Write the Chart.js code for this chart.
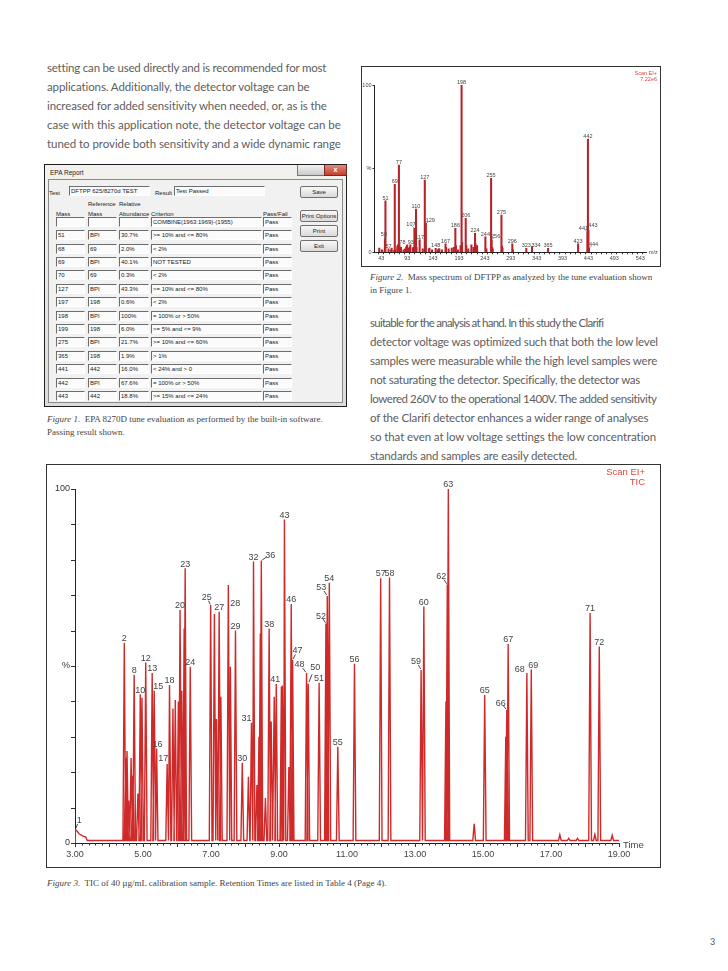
<!DOCTYPE html>
<html lang="en">
<head>
<meta charset="UTF-8">
<title>Clarifi detector - DFTPP tune and TIC</title>
<script src="https://cdn.jsdelivr.net/npm/chart.js"></script>
<style>
  body { margin:0; width:728px; height:971px; position:relative; overflow:hidden; background:#fff; font-family:Lato, "Liberation Sans", sans-serif; }
  .para { position:absolute; font-size:11.5px; line-height:19px; color:#5d5d5d; white-space:nowrap; }
  .ln { display:inline-block; }
  .cap { position:absolute; font-family:"Liberation Serif", serif; font-size:9px; line-height:13px; color:#444; white-space:nowrap; }
  .box { position:absolute; border:1px solid #333; background:#fff; }
  canvas { position:absolute; }
  .red { position:absolute; color:#e0463c; font-family:"Liberation Sans", Arial, sans-serif; text-align:right; white-space:nowrap; }
  .pageno { position:absolute; left:710px; top:936px; font-size:9px; color:#555; }

  /* EPA Report window */
  .win { position:absolute; left:44px; top:164px; width:301px; height:241px; border:1px solid #1e1e1e;
         background:linear-gradient(#f4f2ee, #dedbd4); font-family:"Liberation Sans", Arial, sans-serif; color:#222; }
  .win div { position:absolute; white-space:nowrap; }
  .wtitle { left:5px; top:4px; font-size:6.5px; line-height:8px; }
  .wbtns { left:252px; top:0; width:26px; height:10px; background:linear-gradient(#f3f3f3,#c9c9c9); border:1px solid #777; border-top:0; }
  .wclose { left:279px; top:0; width:21px; height:10px; background:linear-gradient(#e48a7c,#c2402c); border:1px solid #7a2a20; border-top:0;
            color:#fff; font-size:7px; line-height:10px; text-align:center; font-weight:bold; }
  .client { left:3px; top:14px; width:293px; height:222px; background:#f1f1f1; border:1px solid #8a8a8a; }
  .lbl { font-size:6px; line-height:8px; }
  .fld { height:8px; border-top:1px solid #6d6d6d; border-left:1px solid #6d6d6d; border-bottom:1px solid #fff; border-right:1px solid #fff;
         background:#fbfbfb; font-size:6px; line-height:8px; padding-left:1px; overflow:hidden; }
  .btn { width:36px; height:10px; border:1px solid #707070; border-radius:2px; background:linear-gradient(#f8f8f8,#dadada);
         font-size:6px; line-height:10px; text-align:center; }
</style>
</head>
<body>

<div class="para" style="left:47px; top:58px;">
<span class="ln" data-w="279">setting can be used directly and is recommended for most</span><br>
<span class="ln" data-w="263">applications. Additionally, the detector voltage can be</span><br>
<span class="ln" data-w="280">increased for added sensitivity when needed, or, as is the</span><br>
<span class="ln" data-w="294">case with this application note, the detector voltage can be</span><br>
<span class="ln" data-w="294">tuned to provide both sensitivity and a wide dynamic range</span>
</div>

<div class="win" id="epaWin">
  <div class="wtitle">EPA Report</div>
  <div class="wbtns"></div>
  <div class="wclose">x</div>
  <div class="client"></div>
  <div class="lbl" style="left:4px; top:24px;">Test</div>
  <div class="fld" style="left:24px; top:21px; width:78px;">DFTPP 625/8270d TEST</div>
  <div class="lbl" style="left:110px; top:24px;">Result</div>
  <div class="fld" style="left:129px; top:21px; width:88px;">Test Passed</div>
  <div class="btn" style="left:255px; top:21px;">Save</div>
  <div class="btn" style="left:255px; top:45px;">Print Options</div>
  <div class="btn" style="left:255px; top:60px;">Print</div>
  <div class="btn" style="left:255px; top:75px;">Exit</div>
  <div class="lbl" style="left:43px; top:35px;">Reference</div>
  <div class="lbl" style="left:74px; top:35px;">Relative</div>
  <div class="lbl" style="left:11px; top:45px;">Mass</div>
  <div class="lbl" style="left:43px; top:45px;">Mass</div>
  <div class="lbl" style="left:74px; top:45px;">Abundance</div>
  <div class="lbl" style="left:106px; top:45px;">Criterion</div>
  <div class="lbl" style="left:218px; top:45px;">Pass/Fail</div>
</div>

<div class="cap" style="left:47px; top:413px;">
<i>Figure 1.</i>&nbsp; EPA 8270D tune evaluation as performed by the built-in software.<br>
Passing result shown.
</div>

<div class="box" style="left:361px; top:66px; width:298px; height:199px;"></div>
<canvas id="specChart" width="298" height="198" style="left:362px; top:67px;"></canvas>
<div class="red" style="right:71px; top:70px; font-size:5.5px; line-height:6px;">Scan EI+<br>7.22e6</div>

<div class="cap" style="left:370px; top:271px;">
<i>Figure 2.</i>&nbsp; Mass spectrum of DFTPP as analyzed by the tune evaluation shown<br>
in Figure 1.
</div>

<div class="para" style="left:370px; top:313px;">
<span class="ln" data-w="233">suitable for the analysis at hand. In this study the Clarifi</span><br>
<span class="ln" data-w="288">detector voltage was optimized such that both the low level</span><br>
<span class="ln" data-w="287">samples were measurable while the high level samples were</span><br>
<span class="ln" data-w="270">not saturating the detector. Specifically, the detector was</span><br>
<span class="ln" data-w="287">lowered 260V to the operational 1400V. The added sensitivity</span><br>
<span class="ln" data-w="278">of the Clarifi detector enhances a wider range of analyses</span><br>
<span class="ln" data-w="286">so that even at low voltage settings the low concentration</span><br>
<span class="ln" data-w="207">standards and samples are easily detected.</span>
</div>

<div class="box" style="left:46px; top:464px; width:613px; height:402px;"></div>
<canvas id="ticChart" width="613" height="401" style="left:47px; top:465px;"></canvas>
<div class="red" style="right:83px; top:467px; font-size:9.5px; line-height:10px;">Scan EI+<br>TIC</div>

<div class="cap" style="left:47px; top:877px;">
<i>Figure 3.</i>&nbsp; TIC of 40 &micro;g/mL calibration sample. Retention Times are listed in Table 4 (Page 4).
</div>

<div class="pageno">3</div>

<script>
// ---- Figure 1: tune report rows ----
const tuneMass  = ['', '51', '68', '69', '70', '127', '197', '198', '199', '275', '365', '441', '442', '443'];
const tuneRef   = ['', 'BPI', '69', 'BPI', '69', 'BPI', '198', 'BPI', '198', 'BPI', '198', '442', 'BPI', '442'];
const tuneAbund = ['', '30.7%', '2.0%', '40.1%', '0.3%', '43.3%', '0.6%', '100%', '6.0%', '21.7%', '1.9%', '16.0%', '67.6%', '18.8%'];
const tuneCrit  = ['COMBINE(1963:1969)-(1955)', '>= 10% and <= 80%', '< 2%', 'NOT TESTED', '< 2%', '>= 10% and <= 80%', '< 2%',
                   '= 100% or > 50%', '>= 5% and <= 9%', '>= 10% and <= 60%', '> 1%', '< 24% and > 0', '= 100% or > 50%', '>= 15% and <= 24%'];
const tunePass  = Array(14).fill('Pass');

// ---- Figure 2: DFTPP mass spectrum ----
const specMz = [39, 44, 45, 50, 51, 57, 62, 63, 68, 69, 70, 74, 75, 76, 77, 78, 79, 80, 81, 86, 89, 91, 92, 93, 96, 98, 99,
                104, 105, 107, 108, 110, 111, 117, 123, 127, 128, 129, 135, 136, 141, 148, 152, 154, 155, 160, 167, 168,
                173, 179, 183, 186, 187, 191, 196, 198, 199, 206, 207, 211, 217, 221, 224, 225, 227, 228, 244, 246,
                255, 256, 257, 258, 275, 276, 277, 296, 297, 323, 334, 365, 423, 441, 442, 443, 444];
const specAbund = [2.5, 1.5, 1.2, 7.8, 30.7, 2, 1.5, 2.5, 1.2, 40.6, 1.5, 3.5, 4.5, 3.5, 52.2, 4.5, 3, 2.5, 3, 1.5, 2, 3, 3.5, 4.5, 2.5, 3, 4.5,
                   2.5, 3, 14.3, 5, 25.9, 3, 7.4, 2, 43.2, 4, 17.3, 2, 2.5, 1.5, 2.4, 1.5, 2, 2, 1.5, 5, 3,
                   2, 2.5, 3, 14.3, 4, 1.5, 4, 100, 6, 20.3, 4, 2, 4.5, 3, 11.4, 5, 3.5, 4, 9.3, 2,
                   44.2, 7.4, 3, 2, 22.3, 3.5, 2.5, 5, 1.5, 2.4, 3.4, 2.4, 5, 12.3, 67.7, 13.3, 2.4];
const specLabels = ['', '', '', '50', '51', '57', '', '', '', '69', '', '', '', '', '77', '78', '', '', '', '', '', '', '', '93', '', '', '',
                    '', '', '107', '', '110', '', '117', '', '127', '', '129', '', '', '', '148', '', '', '', '', '167', '',
                    '', '', '', '186', '', '', '', '198', '', '206', '', '', '', '', '224', '', '', '', '244', '',
                    '255', '256', '', '', '275', '', '', '296', '', '323', '334', '365', '423', '441', '442', '443', '444'];
const specTickLabels = [43, 93, 143, 193, 243, 293, 343, 393, 443, 493, 543];

// ---- Figure 3: TIC chromatogram ----
const startTimes  = [3.00, 3.01, 3.04, 3.12, 3.22, 3.32, 3.36];
const startLevels = [0, 3.8, 3.6, 2.6, 2.0, 1.7, 0.7];
const baseLevel = 0.7;
const peakTimes = [
  4.45, 4.49, 4.53, 4.58, 4.65, 4.70, 4.74, 4.85, 4.92, 4.97,
  5.08, 5.27, 5.33, 5.40, 5.71, 5.78, 5.88, 5.95, 6.04, 6.09,
  6.14, 6.21, 6.24, 6.39, 6.99, 7.10, 7.16, 7.24, 7.29,
  7.51, 7.57, 7.72, 7.92, 8.10, 8.19, 8.25, 8.35, 8.41, 8.45,
  8.48, 8.60, 8.71, 8.77, 8.86, 8.92, 9.07, 9.10, 9.16, 9.29,
  9.36, 9.40, 9.81, 9.86, 10.18, 10.38, 10.42, 10.48, 10.73, 11.22,
  11.99, 12.25, 13.18, 13.26, 13.91, 13.95, 13.98, 14.74, 15.05, 15.67,
  15.70, 15.74, 16.29, 16.42, 17.26, 17.52, 17.78, 18.15, 18.29, 18.42,
  18.80
];
const peakHeights = [
  56.6, 24, 26, 12, 24, 19, 47.5, 14, 42, 41,
  51, 48, 43, 26.7, 22.3, 44.6, 38, 40.4, 40, 65.8,
  43, 60.6, 77.6, 49.8, 67.2, 64.7, 35, 65.3, 41.3,
  72.9, 49.8, 60, 22.7, 18.7, 34, 79.5, 16.4, 30, 59.2,
  79.8, 12.7, 60.6, 34.3, 41.3, 44.9, 44.2, 44.5, 91.4, 21.5,
  67.5, 51.7, 48, 45, 45.3, 62, 69.8, 73.5, 27.2, 50.6,
  74.8, 75, 48.9, 66.8, 40, 73, 100, 5.4, 41.8, 30,
  37.6, 56.2, 48, 49, 2.3, 1.3, 1.3, 65, 2.4, 55.5,
  2.2
];
const peakLabels = [
  '2', '', '', '', '', '', '8', '', '10', '',
  '12', '13', '15', '16', '17', '18', '', '', '', '20',
  '', '', '23', '24', '25', '', '', '27', '',
  '28', '', '29', '30', '', '31', '32', '', '', '',
  '36', '', '38', '', '', '41', '', '', '43', '',
  '46', '47', '48', '50', '51', '52', '53', '54', '55', '56',
  '57', '58', '59', '60', '', '62', '63', '', '65', '',
  '66', '67', '68', '69', '', '', '', '71', '', '72',
  ''
];
const timeTickLabels = ['3.00', '5.00', '7.00', '9.00', '11.00', '13.00', '15.00', '17.00', '19.00'];

// label placement tweaks (centre offset from apex in px, leader line flag)
const ticLabelShift = {
  '1': [4, -10, 1], '15': [4, -5], '16': [1, -5], '17': [-4, -6], '25': [-4, -8, 1], '28': [7, 18],
  '31': [-5, -5], '36': [9, -6, 1], '41': [-1, -5], '47': [5, -10, 1], '48': [-7, -9, 1], '50': [7, -17, 1],
  '52': [-5, -8, 1], '53': [-6, -9, 1], '59': [-5, -9, 1], '62': [-6, -9, 1], '66': [-6, -7, 1],
  '68': [-7, -4], '69': [2, -5]
};
const specLabelShift = {
  '50': [-1, -5, 1], '107': [-3.5, -4, 1], '129': [4.5, -3.5, 1], '256': [4, -4, 1], '441': [-4, -3.5, 1],
  '443': [4.5, -5], '444': [4.5, -4, 1], '78': [3, -3], '93': [3.5, -3], '334': [4, -2]
};

const FONT = '"Liberation Sans", Arial, sans-serif';
Chart.defaults.font.family = FONT;

// stretch each text line to the measured line length of the page
document.querySelectorAll('.ln').forEach(el => {
  const natural = el.getBoundingClientRect().width;
  el.style.letterSpacing = ((parseFloat(el.dataset.w) - natural) / el.textContent.length) + 'px';
});

// build the tune report rows
const win = document.getElementById('epaWin');
const cols = [[11, 26, tuneMass], [43, 26, tuneRef], [74, 27, tuneAbund], [106, 108, tuneCrit], [218, 26, tunePass]];
tuneCrit.forEach((_, i) => {
  const top = 51.7 + 13.4 * i;
  cols.forEach(([left, w, arr]) => {
    const d = document.createElement('div');
    d.className = 'fld';
    d.style.left = left + 'px';
    d.style.top = top + 'px';
    d.style.width = w + 'px';
    d.textContent = arr[i];
    win.appendChild(d);
  });
});

function drawLabel(ctx, text, px, py, shift, size) {
  const dx = shift[0], dy = shift[1];
  ctx.fillText(text, px + dx, py + dy + size * 0.36);
  if (shift[2]) {
    ctx.beginPath();
    ctx.moveTo(px + dx * 0.55, py + dy * 0.55);
    ctx.lineTo(px + dx * 0.1, py + dy * 0.1);
    ctx.stroke();
  }
}

// ---- spectrum chart ----
const specTicks = [];
for (let v = 43; v <= 543; v += 10) specTicks.push(v);

const specDecor = {
  id: 'specDecor',
  afterDatasetsDraw(chart) {
    const { ctx, chartArea: a, scales: { x, y } } = chart;
    ctx.save();
    ctx.fillStyle = '#444';
    ctx.strokeStyle = '#444';
    ctx.lineWidth = 0.6;
    ctx.font = '5.5px ' + FONT;
    ctx.textAlign = 'center';
    specLabels.forEach((lab, i) => {
      if (!lab) return;
      drawLabel(ctx, lab, x.getPixelForValue(specMz[i]), y.getPixelForValue(specAbund[i]),
                specLabelShift[lab] || [0, -3], 5.5);
    });
    ctx.textAlign = 'left';
    ctx.fillText('m/z', a.right + 3, a.bottom + 2);
    ctx.restore();
  }
};

new Chart(document.getElementById('specChart'), {
  type: 'bar',
  data: {
    datasets: [{
      data: specMz.map((m, i) => ({ x: m, y: specAbund[i] })),
      backgroundColor: '#b8232a',
      barThickness: 1.4
    }]
  },
  options: {
    responsive: false, animation: false, devicePixelRatio: 1,
    layout: { padding: { top: 18, right: 14, bottom: 0, left: 0 } },
    plugins: { legend: { display: false }, tooltip: { enabled: false } },
    scales: {
      x: {
        type: 'linear', min: 35, max: 549,
        afterBuildTicks: s => { s.ticks = specTicks.map(v => ({ value: v })); },
        afterFit: s => { s.height = 12.7; },
        grid: { drawOnChartArea: false, tickLength: 2, color: '#333' },
        border: { color: '#222', width: 1 },
        ticks: { autoSkip: false, maxRotation: 0, padding: 1, color: '#444', font: { size: 5.5 },
                 callback: v => specTickLabels.includes(v) ? String(v) : '' }
      },
      y: {
        min: 0, max: 100,
        afterBuildTicks: s => { s.ticks = [0, 50, 100].map(v => ({ value: v })); },
        afterFit: s => { s.width = 12.5; },
        grid: { drawOnChartArea: false, tickLength: 2, color: '#333' },
        border: { color: '#222', width: 1 },
        ticks: { padding: 1, color: '#444', font: { size: 5.5 },
                 callback: v => v === 100 ? '100' : v === 50 ? '%' : '0' }
      }
    }
  },
  plugins: [specDecor]
});

// ---- TIC chart ----
const PEAK_HALF = 0.04;
const ticPoints = startTimes.map((t, i) => ({ x: t, y: startLevels[i] }));
peakTimes.forEach((t, i) => {
  ticPoints.push({ x: t - PEAK_HALF, y: baseLevel }, { x: t, y: peakHeights[i] }, { x: t + PEAK_HALF, y: baseLevel });
});
ticPoints.push({ x: 19, y: baseLevel });

const timeTicks = [];
for (let k = 30; k <= 190; k += 2) timeTicks.push(k / 10);

const ticDecor = {
  id: 'ticDecor',
  afterDatasetsDraw(chart) {
    const { ctx, chartArea: a, scales: { x, y } } = chart;
    ctx.save();
    ctx.strokeStyle = '#333';
    ctx.lineWidth = 1;
    y.ticks.forEach(t => {
      const py = Math.round(y.getPixelForValue(t.value)) + 0.5;
      ctx.beginPath(); ctx.moveTo(a.left - 4, py); ctx.lineTo(a.left, py); ctx.stroke();
    });
    x.ticks.forEach(t => {
      const px = Math.round(x.getPixelForValue(t.value)) + 0.5;
      const major = Number.isInteger(t.value);
      ctx.beginPath(); ctx.moveTo(px, a.bottom); ctx.lineTo(px, a.bottom + (major ? 4 : 2.5)); ctx.stroke();
    });
    ctx.fillStyle = '#444';
    ctx.font = '9.5px ' + FONT;
    ctx.textAlign = 'left';
    ctx.textBaseline = 'middle';
    ctx.fillText('Time', a.right + 4, a.bottom + 2);

    ctx.textBaseline = 'alphabetic';
    ctx.textAlign = 'center';
    ctx.font = '9px ' + FONT;
    ctx.lineWidth = 0.9;
    drawLabel(ctx, '1', x.getPixelForValue(startTimes[1]), y.getPixelForValue(startLevels[1]), ticLabelShift['1'], 9);
    peakLabels.forEach((lab, i) => {
      if (!lab) return;
      drawLabel(ctx, lab, x.getPixelForValue(peakTimes[i]), y.getPixelForValue(peakHeights[i]),
                ticLabelShift[lab] || [0, -5], 9);
    });
    ctx.restore();
  }
};

new Chart(document.getElementById('ticChart'), {
  type: 'scatter',
  data: {
    datasets: [{
      data: ticPoints,
      showLine: true,
      borderColor: '#cf2a2a',
      borderWidth: 1.4,
      pointRadius: 0,
      tension: 0
    }]
  },
  options: {
    responsive: false, animation: false, devicePixelRatio: 1,
    layout: { padding: { top: 24, right: 41, bottom: 0, left: 0 } },
    plugins: { legend: { display: false }, tooltip: { enabled: false } },
    scales: {
      x: {
        type: 'linear', min: 3, max: 19,
        afterBuildTicks: s => { s.ticks = timeTicks.map(v => ({ value: v })); },
        afterFit: s => { s.height = 23; },
        grid: { drawOnChartArea: false, drawTicks: false },
        border: { color: '#222', width: 1 },
        ticks: { autoSkip: false, maxRotation: 0, padding: 6, color: '#444', font: { size: 9 },
                 callback: v => Number.isInteger(v) && timeTickLabels.includes(v.toFixed(2)) ? v.toFixed(2) : '' }
      },
      y: {
        min: 0, max: 100,
        afterBuildTicks: s => { s.ticks = [0, 10, 20, 30, 40, 50, 60, 70, 80, 90, 100].map(v => ({ value: v })); },
        afterFit: s => { s.width = 28; },
        grid: { drawOnChartArea: false, drawTicks: false },
        border: { color: '#222', width: 1 },
        ticks: { padding: 5, color: '#333', font: { size: 9 },
                 callback: v => v === 100 ? '100' : v === 50 ? '%' : v === 0 ? '0' : '' }
      }
    }
  },
  plugins: [ticDecor]
});
</script>
</body>
</html>
